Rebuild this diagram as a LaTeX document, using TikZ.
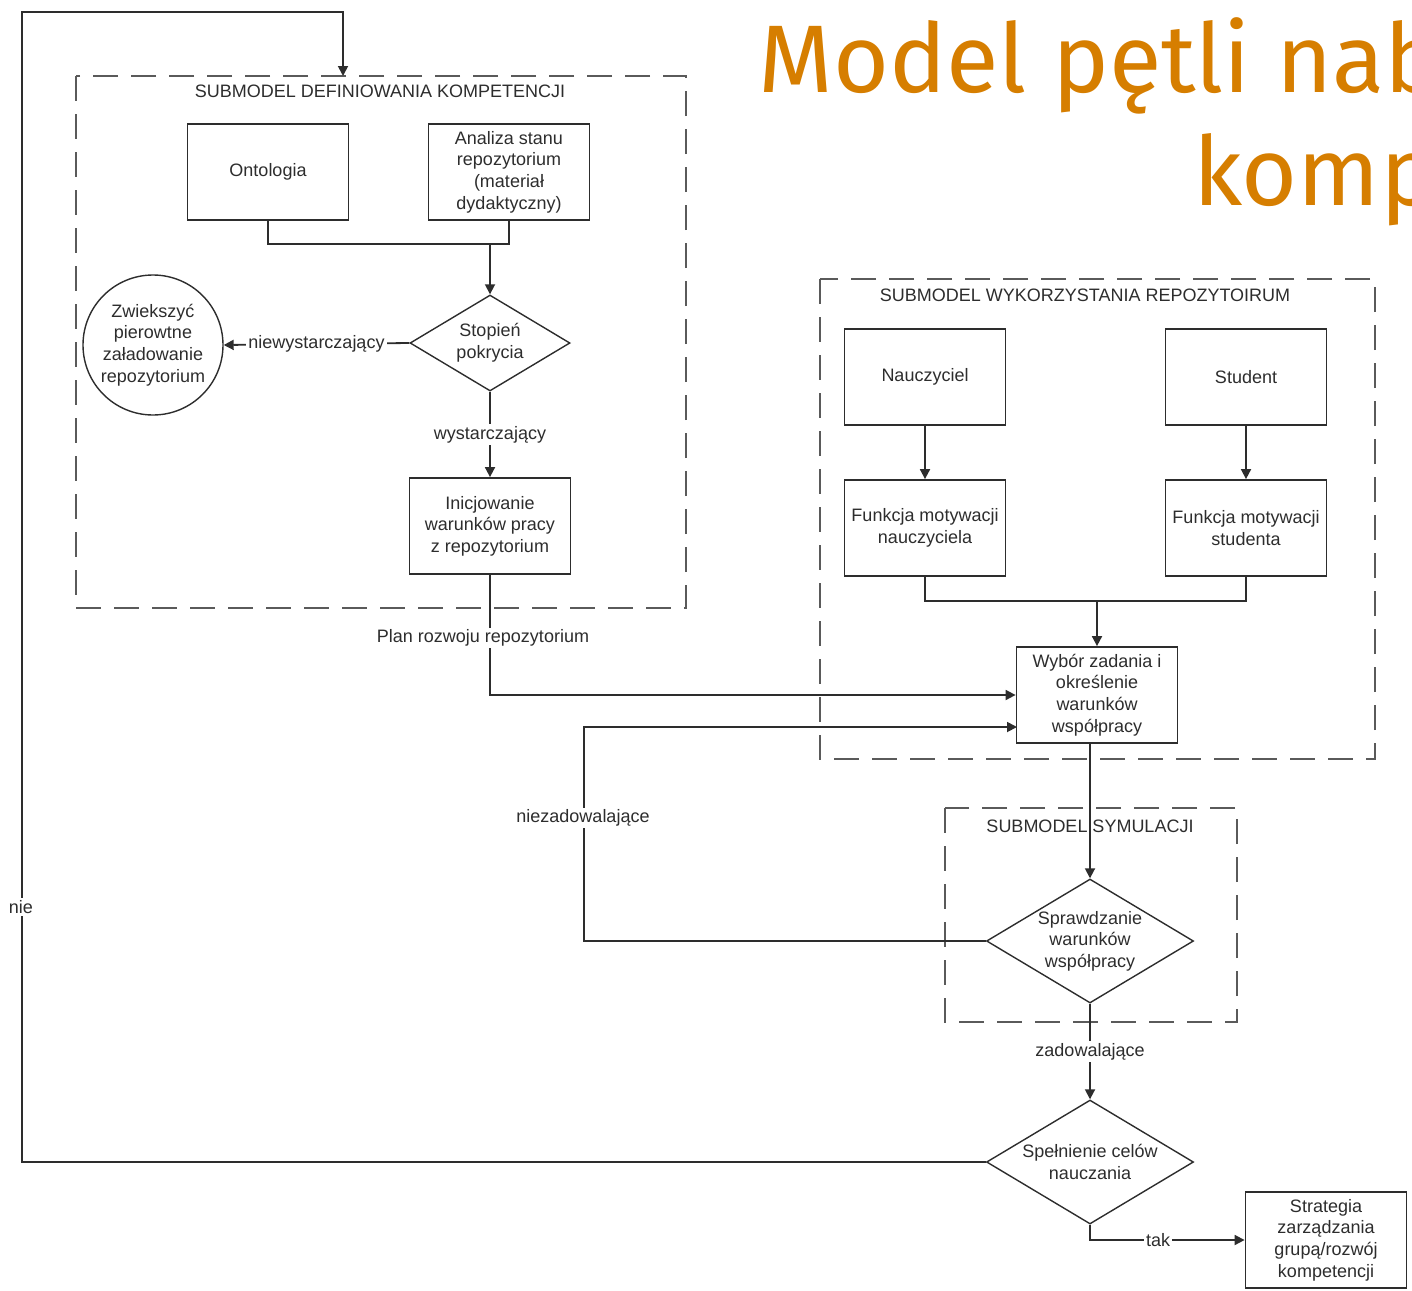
\documentclass[tikz,border=0pt]{standalone}
\usepackage{fontspec}
\setmainfont{Liberation Sans}
\newfontfamily\titlefont{Fira Sans}
\usetikzlibrary{shapes.geometric,arrows.meta}
\definecolor{titleorange}{RGB}{214,126,0}
\definecolor{ink}{RGB}{45,45,45}
\definecolor{dashgray}{RGB}{90,90,90}
\tikzset{
  txt/.style={font=\fontsize{9}{10.8}\selectfont, text=ink, align=center},
  box/.style={txt, draw=ink, line width=0.9pt, minimum width=80.5pt, minimum height=48pt, inner sep=0pt},
  dia/.style={txt, diamond, aspect=1.67, draw=ink, line width=0.7pt, inner sep=0pt},
  conn/.style={draw=ink, line width=0.9pt},
  arr/.style={conn, -{Triangle[length=5pt,width=5pt]}},
  lab/.style={txt, fill=white, inner sep=1pt},
  grp/.style={draw=dashgray, line width=1.1pt, dash pattern=on 12.5pt off 6.5pt},
  grplabel/.style={txt, inner sep=0pt},
  titletext/.style={anchor=base west, inner sep=0pt, text=titleorange, font=\titlefont\fontsize{48}{48}\selectfont}
}
\begin{document}
\begin{tikzpicture}[x=0.5pt, y=-0.5pt]
\useasboundingbox (0,0) rectangle (1412,1290);

% title, running off the right edge
\begin{scope}
  \clip (0,0) rectangle (1412,1290);
  \node[titletext] (title1) at (758,92) {Model pętli nab};
  \node[titletext] (title2) at (1193,205) {komp};
\end{scope}

% group frames
\draw[grp] (76,76) rectangle (686,608);
\node[grplabel] (g1) at (380,91) {SUBMODEL DEFINIOWANIA KOMPETENCJI};
\draw[grp] (820,279) rectangle (1375,759);
\node[grplabel] (g2) at (1085,295) {SUBMODEL WYKORZYSTANIA REPOZYTOIRUM};
\draw[grp] (945,808) rectangle (1237,1022);

% definition submodel
\node[box] (onto) at (268,172) {Ontologia};
\node[box] (anal) at (509,172) {Analiza stanu\\repozytorium\\(materiał\\dydaktyczny)};
\node[dia, minimum width=80pt, minimum height=48pt] (stop) at (490,343) {Stopień\\pokrycia};
\node[txt, circle, draw=ink, line width=0.7pt, minimum size=70pt, inner sep=0pt] (zw) at (153,345)
  {Zwiekszyć\\pierowtne\\załadowanie\\repozytorium};
\node[box] (init) at (490,526) {Inicjowanie\\warunków pracy\\z repozytorium};

% usage submodel
\node[box] (naucz) at (925,377) {Nauczyciel};
\node[box] (stud) at (1246,377) {Student};
\node[box] (fn) at (925,528) {Funkcja motywacji\\nauczyciela};
\node[box] (fs) at (1246,528) {Funkcja motywacji\\studenta};
\node[box] (wyb) at (1097,695) {Wybór zadania i\\określenie\\warunków\\współpracy};

% simulation and evaluation
\node[dia, minimum width=103.5pt, minimum height=62pt] (spr) at (1090,941) {Sprawdzanie\\warunków\\współpracy};
\node[dia, minimum width=103.5pt, minimum height=62pt] (spel) at (1090,1162) {Spełnienie celów\\nauczania};
\node[box] (strat) at (1326,1240) {Strategia\\zarządzania\\grupą/rozwój\\kompetencji};

% helper points
\coordinate (j1) at (490,244);
\coordinate (j2) at (1097,601);
\coordinate (loopL) at (584,941);
\coordinate (wybIn) at (1017,727);
\coordinate (nA) at (22,1162);
\coordinate (nB) at (22,12);
\coordinate (nC) at (343,12);
\coordinate (defTop) at (343,76);

% connectors
\draw[conn] (onto.south) |- (j1) -| (anal.south);
\draw[arr] (j1) -- (stop.north);
\draw[arr] (stop.west) -- node[lab] {niewystarczający} (zw.east);
\draw[arr] (stop.south) -- node[lab] {wystarczający} (init.north);
\draw[arr] (init.south) |- (wyb.west);
\node[lab] (planlab) at (483,638) {Plan rozwoju repozytorium};

\draw[arr] (naucz.south) -- (fn.north);
\draw[arr] (stud.south) -- (fs.north);
\draw[conn] (fn.south) |- (j2) -| (fs.south);
\draw[arr] (j2) -- (wyb.north);

\draw[arr] (wyb.south -| spr.north) -- (spr.north);
\node[grplabel] (g3) at (1090,826) {SUBMODEL SYMULACJI};

\draw[arr] (spr.west) -- (loopL) |- (wybIn);
\node[lab] (nzlab) at (583,818) {niezadowalające};

\draw[arr] (spr.south) -- node[lab] {zadowalające} (spel.north);
\draw[arr] (spel.south) |- node[lab, pos=0.72] {tak} (strat.west);

\draw[arr] (spel.west) -- (nA) -- (nB) -- (nC) -- (defTop);
\node[lab] (nielab) at (21,907) {nie};
\end{tikzpicture}
\end{document}
